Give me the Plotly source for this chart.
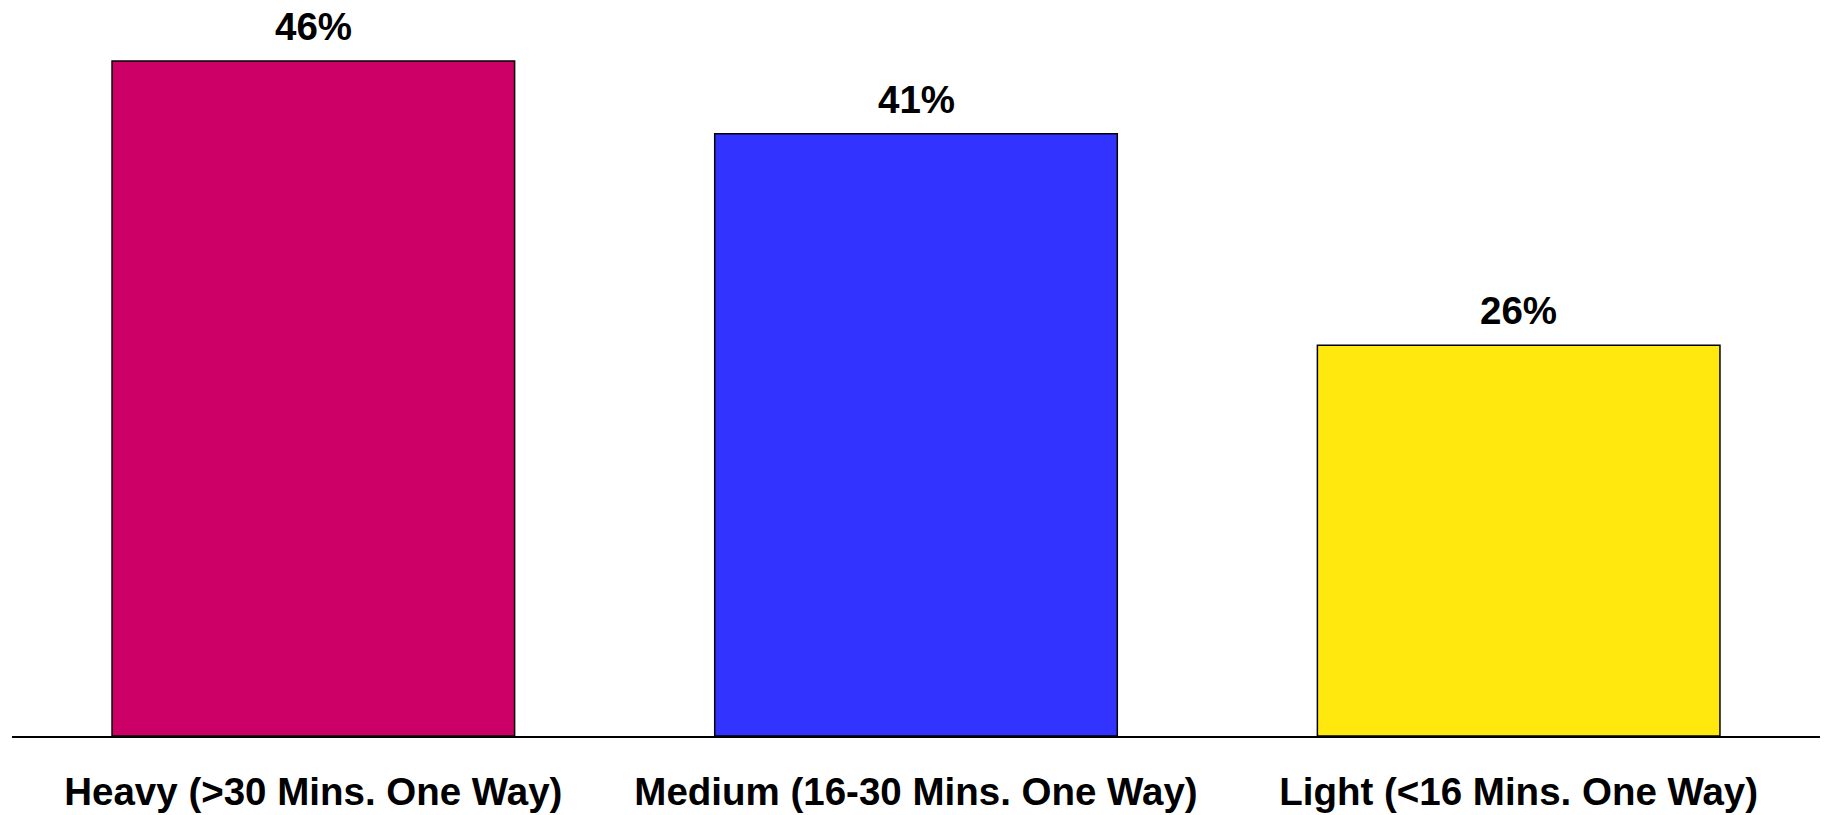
import plotly.graph_objects as go

categories = ["Heavy (>30 Mins. One Way)", "Medium (16-30 Mins. One Way)", "Light (<16 Mins. One Way)"]
values = [45.6, 40.7, 26.4]
value_labels = ["46%", "41%", "26%"]
colors = ["#CC0066", "#3333FF", "#FFE80D"]

FONT = "Liberation Sans, Arial, sans-serif"

fig = go.Figure()
fig.add_trace(go.Bar(
    x=categories, y=values,
    marker=dict(color=colors, line=dict(color="black", width=1.5)),
    hoverinfo="skip",
))

for c, v, t in zip(categories, values, value_labels):
    fig.add_annotation(x=c, y=v, text=t, showarrow=False, yanchor="bottom", yshift=11,
                       font=dict(family=FONT, size=38.5, color="black", weight="bold"))

fig.update_layout(
    width=1824, height=815,
    margin=dict(l=12, r=4, t=0, b=79),
    plot_bgcolor="white", paper_bgcolor="white",
    bargap=0.332,
    showlegend=False,
    xaxis=dict(showline=True, linecolor="black", linewidth=1.5, showgrid=False,
               ticks="", ticklabelstandoff=21, automargin=False,
               tickfont=dict(family=FONT, size=38.5, color="black", weight="bold")),
    yaxis=dict(visible=False, range=[0, 49.73], showgrid=False, zeroline=False,
               automargin=False),
)

fig.write_html("out.html", config={"displayModeBar": False},
               post_script="document.body.style.margin='0';document.body.style.overflow='hidden';")
